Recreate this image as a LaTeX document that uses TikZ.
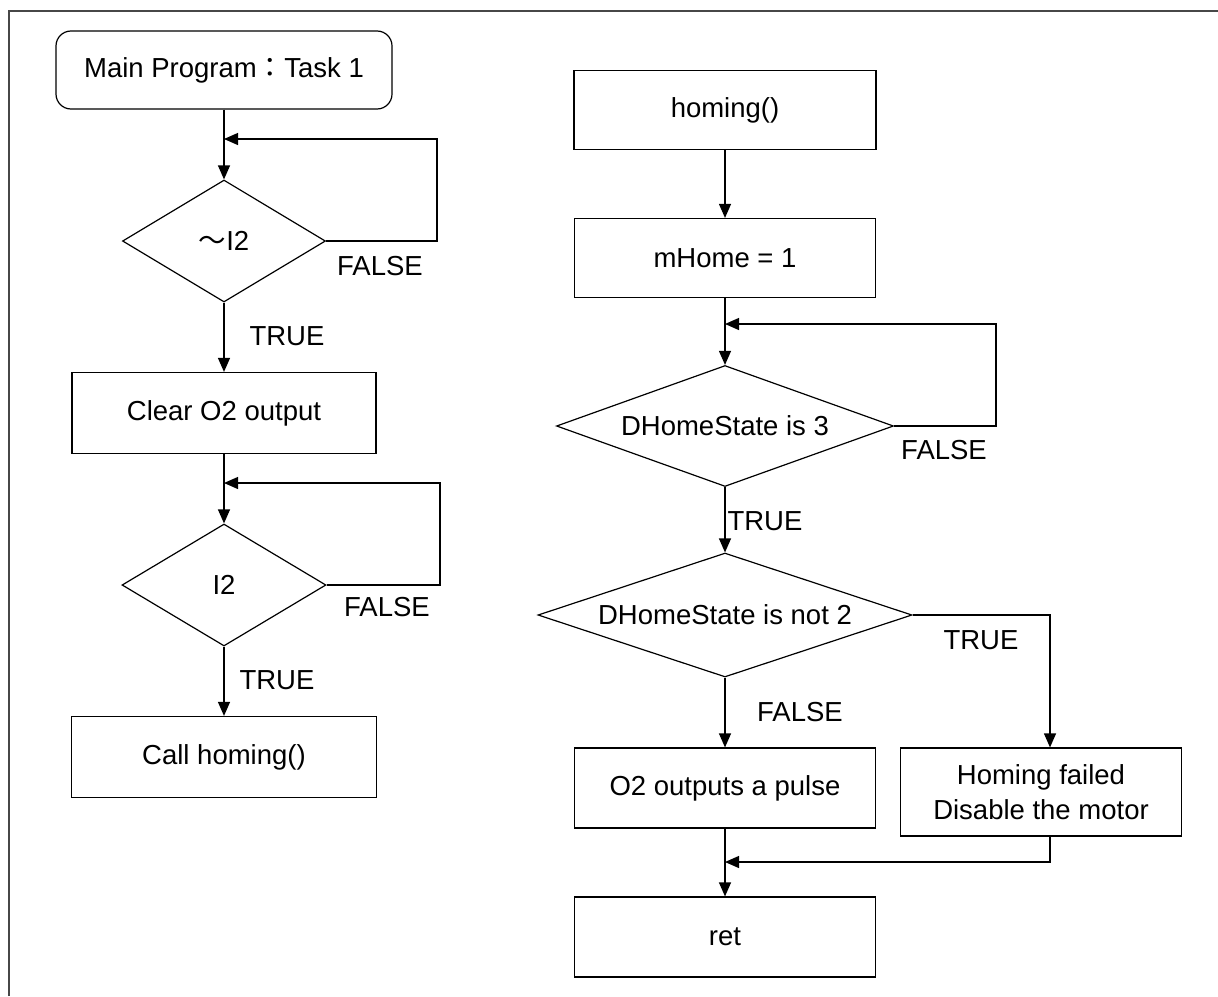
\documentclass[tikz,border=0pt]{standalone}
\usepackage{fontspec}
\setmainfont{Liberation Sans}
\newfontfamily\cjk{Noto Sans CJK TC}
\usetikzlibrary{shapes.geometric,arrows.meta}
\begin{document}
\begin{tikzpicture}[x=1pt,y=-1pt,line width=1.2pt,
  font=\fontsize{27.5}{35}\selectfont,
  box/.style={draw,rectangle,inner sep=0pt,align=center},
  dec/.style={draw,diamond,inner sep=0pt},
  arr/.style={-{Triangle[length=14pt,width=12pt]}},
  lbl/.style={inner sep=0pt}]
\useasboundingbox (0,0) rectangle (1218,996);
\draw[line width=2.5pt,color=black!72] (9,996) -- (9,11) -- (1218,11);

% left column
\node[box,rounded corners=15pt,minimum width=336pt,minimum height=78pt] (start) at (224,70) {Main Program{\cjk ：}Task 1};
\node[dec,shape aspect=1.66,minimum width=203pt,minimum height=122pt] (d1) at (224,241) {{\cjk ～}I2};
\node[box,minimum width=304pt,minimum height=81pt] (clr) at (224,413) {Clear O2 output};
\node[dec,shape aspect=1.66,minimum width=204pt,minimum height=122pt] (d2) at (224,585) {I2};
\node[box,minimum width=305pt,minimum height=81pt] (call) at (224,757) {Call homing()};

\coordinate (j1) at (224,139);
\coordinate (r1) at (437,139);
\coordinate (j2) at (224,483);
\coordinate (r2) at (440,483);

\draw (start.south) -- (j1);
\draw[arr] (j1) -- (d1.north);
\draw[arr] (d1.east) -| (r1) -- (j1);
\draw[arr] (d1.south) -- (clr.north);
\draw (clr.south) -- (j2);
\draw[arr] (j2) -- (d2.north);
\draw[arr] (d2.east) -| (r2) -- (j2);
\draw[arr] (d2.south) -- (call.north);

\node[lbl] at (380,266) {FALSE};
\node[lbl] at (287,336) {TRUE};
\node[lbl] at (387,607) {FALSE};
\node[lbl] at (277,680) {TRUE};

% right column
\node[box,minimum width=302pt,minimum height=79pt] (hom) at (725,110) {homing()};
\node[box,minimum width=301pt,minimum height=79pt] (mh) at (725,258) {mHome = 1};
\node[dec,shape aspect=2.78,minimum width=337pt,minimum height=121pt] (d3) at (725,426) {DHomeState is 3};
\node[dec,shape aspect=3.0,minimum width=374pt,minimum height=124pt] (d4) at (725,615) {DHomeState is not 2};
\node[box,minimum width=301pt,minimum height=80pt] (o2) at (725,788) {O2 outputs a pulse};
\node[box,minimum width=281pt,minimum height=88pt] (hf) at (1041,792) {Homing failed\\Disable the motor};
\node[box,minimum width=301pt,minimum height=80pt] (ret) at (725,937) {ret};

\coordinate (j3) at (725,324);
\coordinate (r3) at (996,324);
\coordinate (j4) at (725,862);

\draw[arr] (hom.south) -- (mh.north);
\draw (mh.south) -- (j3);
\draw[arr] (j3) -- (d3.north);
\draw[arr] (d3.east) -| (r3) -- (j3);
\draw[arr] (d3.south) -- (d4.north);
\draw[arr] (d4.east) -| ([xshift=9pt]hf.north);
\draw[arr] (d4.south) -- (o2.north);
\draw (o2.south) -- (j4);
\draw[arr] ([xshift=9pt]hf.south) |- (j4);
\draw[arr] (j4) -- (ret.north);

\node[lbl] at (944,450) {FALSE};
\node[lbl] at (765,521) {TRUE};
\node[lbl] at (981,640) {TRUE};
\node[lbl] at (800,712) {FALSE};
\end{tikzpicture}
\end{document}
